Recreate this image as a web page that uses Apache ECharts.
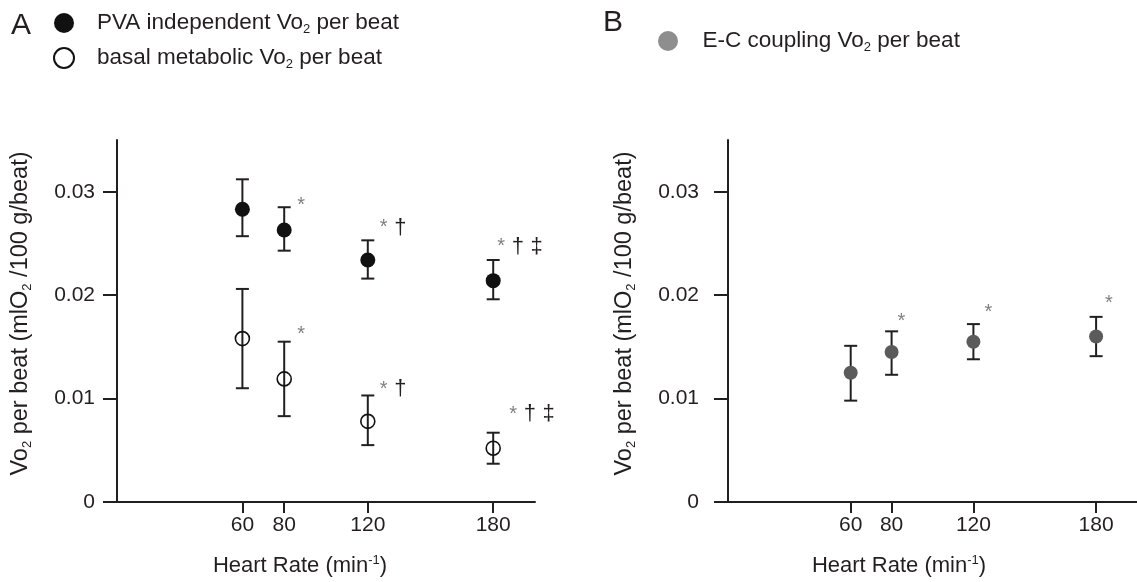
<!DOCTYPE html>
<html>
<head>
<meta charset="utf-8">
<script src="https://cdn.jsdelivr.net/npm/echarts@6/dist/echarts.min.js"></script>
<style>
  html, body { margin: 0; background: #fff; }
  #main { width: 1137px; height: 582px; }
</style>
</head>
<body>
<div id="main"></div>
<script>
// heart rate groups (min-1)
var heartRate = [60, 80, 120, 180];
var xTicks = [60, 80, 120, 180];
var yTicks = [0, 0.01, 0.02, 0.03];

// panel A - PVA independent Vo2 per beat
var pvaMean = [0.0283, 0.0263, 0.0234, 0.0214];
var pvaLow  = [0.0257, 0.0243, 0.0216, 0.0196];
var pvaHigh = [0.0312, 0.0285, 0.0253, 0.0234];
var pvaMarks = ['', '*', '* †', '* † ‡'];

// panel A - basal metabolic Vo2 per beat
var basalMean = [0.0158, 0.0119, 0.0078, 0.0052];
var basalLow  = [0.0110, 0.0083, 0.0055, 0.0037];
var basalHigh = [0.0206, 0.0155, 0.0103, 0.0067];
var basalMarks = ['', '*', '* †', '* † ‡'];

// panel B - E-C coupling Vo2 per beat
var ecMean = [0.0125, 0.0145, 0.0155, 0.0160];
var ecLow  = [0.0098, 0.0123, 0.0138, 0.0141];
var ecHigh = [0.0151, 0.0165, 0.0172, 0.0179];
var ecMarks = ['', '*', '*', '*'];

// label offsets for the significance marks (px from point centre)
var pvaOff   = [null, [13, -24], [12, -32], [4, -34]];
var basalOff = [null, [13, -44], [12, -32], [16, -34]];
var ecOff    = [null, [6, -31], [11, -29], [9, -33]];

var ink = '#231f20';
var FONT = 'Liberation Sans, Arial, sans-serif';

var legendText = {
  'PVA independent': 'PVA independent Vo{sub|2} per beat',
  'basal metabolic': 'basal metabolic Vo{sub|2} per beat',
  'E-C coupling': 'E-C coupling Vo{sub|2} per beat'
};

var subRich = {
  sub: { fontSize: 13, lineHeight: 11, verticalAlign: 'bottom', color: ink, fontFamily: FONT },
  sup: { fontSize: 13, lineHeight: 12, verticalAlign: 'top', color: ink, fontFamily: FONT },
  s: { color: '#808080', fontSize: 20, fontFamily: FONT },
  d: { color: ink, fontSize: 22, fontFamily: FONT }
};

function markText(t) {
  return t.split(' ').map(function (p) {
    return p === '*' ? '{s|*}' : '{d|' + p + '}';
  }).join('  ');
}

function points(mean, marks, offs) {
  return heartRate.map(function (x, i) {
    var item = { value: [x, mean[i]] };
    if (marks[i]) {
      item.label = {
        show: true,
        position: 'inside',
        align: 'left',
        verticalAlign: 'middle',
        offset: offs[i],
        formatter: markText(marks[i]),
        rich: subRich
      };
    }
    return item;
  });
}

function errorBars(low, high, idx) {
  return {
    type: 'custom',
    xAxisIndex: idx,
    yAxisIndex: idx,
    z: 1,
    silent: true,
    encode: { x: 0, y: [1, 2] },
    data: heartRate.map(function (x, i) { return [x, low[i], high[i]]; }),
    renderItem: function (params, api) {
      var lo = api.coord([api.value(0), api.value(1)]);
      var hi = api.coord([api.value(0), api.value(2)]);
      var w = 6.5;
      var st = { stroke: ink, lineWidth: 2, fill: null };
      return {
        type: 'group',
        children: [
          { type: 'line', shape: { x1: hi[0], y1: hi[1], x2: lo[0], y2: lo[1] }, style: st },
          { type: 'line', shape: { x1: hi[0] - w, y1: hi[1], x2: hi[0] + w, y2: hi[1] }, style: st },
          { type: 'line', shape: { x1: lo[0] - w, y1: lo[1], x2: lo[0] + w, y2: lo[1] }, style: st }
        ]
      };
    }
  };
}

function xAxis(idx, shift) {
  return {
    type: 'value', gridIndex: idx, min: 0, max: 200,
    name: '{a|Heart Rate (min}{sup|-1}{a|)}',
    nameLocation: 'middle', nameGap: 52,
    nameTextStyle: {
      padding: [0, shift, 0, 0],
      rich: { a: { fontSize: 22, lineHeight: 24, color: ink, fontFamily: FONT }, sup: subRich.sup }
    },
    splitLine: { show: false },
    axisLine: { show: true, lineStyle: { color: ink, width: 2 } },
    axisTick: { show: true, length: 11, customValues: xTicks, lineStyle: { color: ink, width: 2 } },
    axisLabel: { customValues: xTicks, margin: 13, fontSize: 21, color: ink, fontFamily: FONT }
  };
}

function yAxis(idx, labelMargin, gap) {
  return {
    type: 'value', gridIndex: idx, min: 0, max: 0.035,
    name: '{a|Vo}{sub|2}{a| per beat (mlO}{sub|2}{a| /100 g/beat)}',
    nameLocation: 'middle', nameGap: gap,
    nameTextStyle: {
      padding: [0, 0, 0, 15],
      rich: { a: { fontSize: 23.5, lineHeight: 26, color: ink, fontFamily: FONT }, sub: subRich.sub }
    },
    splitLine: { show: false },
    axisLine: { show: true, lineStyle: { color: ink, width: 2 } },
    axisTick: { show: true, length: 14, customValues: yTicks, lineStyle: { color: ink, width: 2 } },
    axisLabel: {
      customValues: yTicks, margin: labelMargin, fontSize: 21, color: ink, fontFamily: FONT,
      formatter: function (v) { return v === 0 ? '0' : v.toFixed(2); }
    }
  };
}

var chart = echarts.init(document.getElementById('main'));

chart.setOption({
  backgroundColor: '#fff',
  animation: false,
  textStyle: { fontFamily: FONT },
  title: [
    { text: 'A', left: 6, top: 6, textStyle: { fontSize: 30, fontWeight: 'normal', color: ink, fontFamily: FONT } },
    { text: 'B', left: 598, top: 3, textStyle: { fontSize: 30, fontWeight: 'normal', color: ink, fontFamily: FONT } }
  ],
  legend: [
    {
      data: [
        { name: 'PVA independent', icon: 'circle' },
        { name: 'basal metabolic', icon: 'circle' }
      ],
      orient: 'vertical', left: 48, top: 5,
      itemWidth: 56, itemHeight: 20, itemGap: 9,
      selectedMode: false,
      formatter: function (n) { return legendText[n]; },
      textStyle: { fontSize: 22.5, lineHeight: 26, color: ink, fontFamily: FONT, rich: subRich }
    },
    {
      data: [{ name: 'E-C coupling', icon: 'circle', itemStyle: { color: '#8e8e8e' } }],
      orient: 'vertical', left: 653, top: 23,
      itemWidth: 59, itemHeight: 20,
      selectedMode: false,
      formatter: function (n) { return legendText[n]; },
      textStyle: { fontSize: 22.5, lineHeight: 26, color: ink, fontFamily: FONT, rich: subRich }
    }
  ],
  grid: [
    { left: 117, top: 140, width: 418, height: 363 },
    { left: 728, top: 140, width: 420, height: 363 }
  ],
  xAxis: [xAxis(0, 52), xAxis(1, 67)],
  yAxis: [yAxis(0, 22, 83), yAxis(1, 29, 90)],
  series: [
    errorBars(pvaLow, pvaHigh, 0),
    errorBars(basalLow, basalHigh, 0),
    errorBars(ecLow, ecHigh, 1),
    {
      name: 'PVA independent', type: 'scatter', xAxisIndex: 0, yAxisIndex: 0, z: 3,
      symbol: 'circle', symbolSize: 15,
      itemStyle: { color: '#111', opacity: 1 },
      data: points(pvaMean, pvaMarks, pvaOff)
    },
    {
      name: 'basal metabolic', type: 'scatter', xAxisIndex: 0, yAxisIndex: 0, z: 3,
      symbol: 'circle', symbolSize: 14,
      itemStyle: { color: 'rgba(255,255,255,0)', borderColor: '#111', borderWidth: 1.6, opacity: 1 },
      data: points(basalMean, basalMarks, basalOff)
    },
    {
      name: 'E-C coupling', type: 'scatter', xAxisIndex: 1, yAxisIndex: 1, z: 3,
      symbol: 'circle', symbolSize: 14,
      itemStyle: { color: '#5b5b5b', opacity: 1 },
      data: points(ecMean, ecMarks, ecOff)
    }
  ]
});
</script>
</body>
</html>
